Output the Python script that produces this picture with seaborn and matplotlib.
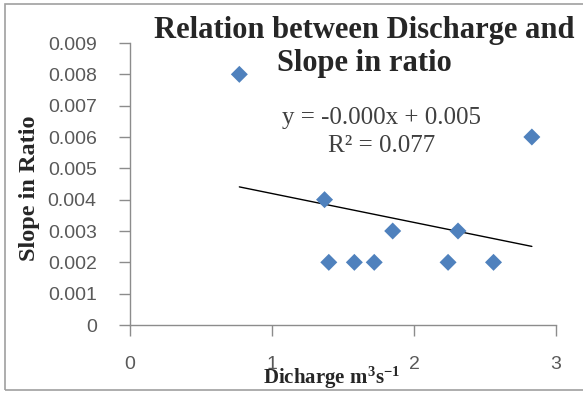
import matplotlib
matplotlib.use("Agg")
import matplotlib.pyplot as plt
import seaborn as sns
import pandas as pd
from matplotlib.patches import Rectangle

discharge = [0.77, 1.37, 1.40, 1.58, 1.72, 1.85, 2.24, 2.31, 2.56, 2.83]
slope = [0.008, 0.004, 0.002, 0.002, 0.002, 0.003, 0.002, 0.003, 0.002, 0.006]
x_ticks = [0, 1, 2, 3]
y_ticks = [0, 0.001, 0.002, 0.003, 0.004, 0.005, 0.006, 0.007, 0.008, 0.009]
y_tick_labels = ["0", "0.001", "0.002", "0.003", "0.004", "0.005", "0.006", "0.007", "0.008", "0.009"]
title = "Relation between Discharge and\nSlope in ratio"
equation = "y = -0.000x + 0.005"
r2_text = "R² = 0.077"

df = pd.DataFrame({"Discharge": discharge, "Slope": slope})

sns.set_style("white")
plt.rcParams["font.family"] = ["Liberation Sans", "DejaVu Sans"]
plt.rcParams["mathtext.fontset"] = "custom"
plt.rcParams["mathtext.rm"] = "Liberation Serif:bold"
plt.rcParams["mathtext.it"] = "Liberation Serif:bold"
plt.rcParams["mathtext.bf"] = "Liberation Serif:bold"

W, H = 583, 393
fig = plt.figure(figsize=(W / 100, H / 100), dpi=100)
ax = fig.add_axes([130 / W, 1 - 325 / H, (556 - 130) / W, (325 - 43) / H])

sns.regplot(data=df, x="Discharge", y="Slope", ax=ax, ci=None, marker="D",
            scatter_kws=dict(s=75, color="#4F81BD", edgecolor="none", zorder=3, alpha=1),
            line_kws=dict(color="black", lw=1.0, zorder=2))

ax.set_xlim(0, 3)
ax.set_ylim(0, 0.009)
ax.set_xticks(x_ticks)
ax.set_yticks(y_ticks)
ax.set_yticklabels(y_tick_labels)
ax.set_xlabel("")
ax.set_ylabel("")

gray = "#8C8C8C"
for s in ["top", "right"]:
    ax.spines[s].set_visible(False)
for s in ["left", "bottom"]:
    ax.spines[s].set_color(gray)
    ax.spines[s].set_linewidth(1.0)
ax.tick_params(axis="both", which="major", direction="out", length=8, width=1, color=gray,
               labelcolor="#595959", labelsize=14, bottom=True, left=True)
ax.tick_params(axis="y", pad=16)
ax.tick_params(axis="x", pad=14)

serif = ["Liberation Serif", "DejaVu Serif"]
fig.text(364 / W, 1 - 47 / H, title, ha="center", va="center", fontsize=22,
         fontweight="bold", family=serif, linespacing=1.2)
fig.text(381 / W, 1 - 118 / H, equation, ha="center", va="center", fontsize=18,
         family=serif, color="#404040")
fig.text(382 / W, 1 - 146 / H, r2_text, ha="center", va="center", fontsize=18,
         family=serif, color="#404040")
fig.text(30 / W, 1 - 188 / H, "Slope in Ratio", ha="center", va="center", rotation=90,
         fontsize=17.5, fontweight="bold", family=serif)
fig.text(332 / W, 1 - 378 / H, r"$\mathrm{Dicharge\ m^{3}s^{-1}}$", ha="center", va="center",
         fontsize=15, fontweight="bold", family=serif)

fig.patches.append(Rectangle((5 / W, 1 - 390 / H), (W + 10 - 5) / W, (390 - 4) / H,
                             transform=fig.transFigure, fill=False, edgecolor="#A0A0A0", lw=1.2))

fig.savefig("out.png", dpi=100)
